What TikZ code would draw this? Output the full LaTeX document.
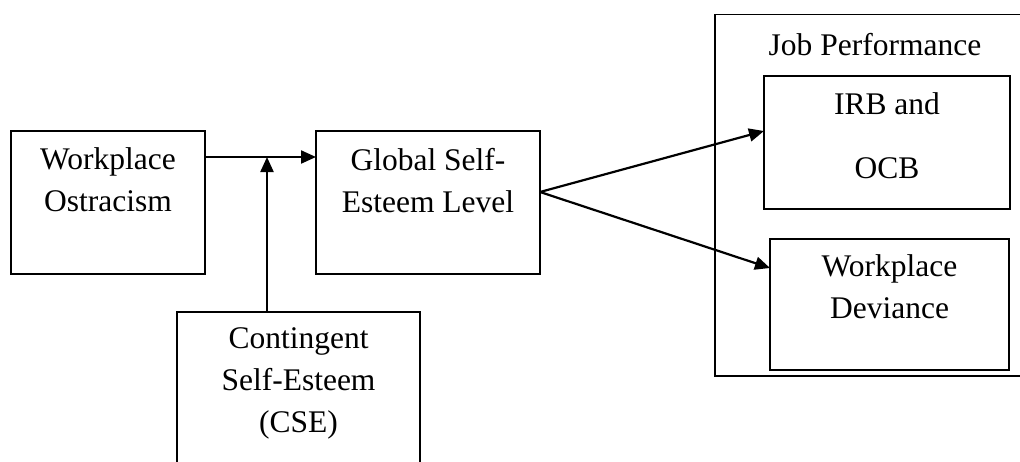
\documentclass[tikz,border=0pt]{standalone}
\usepackage{fontspec}
\setmainfont{Liberation Serif}
\usetikzlibrary{arrows.meta}
\begin{document}
\begin{tikzpicture}[x=1pt,y=-1pt,
  box/.style={draw=black,line width=1.5pt,inner sep=0pt,outer sep=0pt,rectangle},
  lbl/.style={anchor=base,align=center,inner sep=0pt,font=\fontsize{31.5}{42}\selectfont},
  lblwide/.style={anchor=base,align=center,inner sep=0pt,font=\fontsize{31.5}{64}\selectfont},
  arr/.style={line width=2.2pt,-{Triangle[length=15pt,width=13pt]}}]
\useasboundingbox (0,0) rectangle (1020,461);
\clip (0,0) rectangle (1020,461);
% boxes
\node[box,minimum width=194pt,minimum height=143pt] (ostr) at (108,202.5) {};
\node[box,minimum width=224pt,minimum height=143pt] (glob) at (428,202.5) {};
\node[box,minimum width=243pt,minimum height=188pt] (cse) at (298.5,406) {};
\node[box,minimum width=320pt,minimum height=361.5pt] (jp) at (875,195.25) {};
\node[box,minimum width=246pt,minimum height=133pt] (irb) at (887,142.5) {};
\node[box,minimum width=239pt,minimum height=131pt] (dev) at (889.5,304.5) {};
% texts (anchor = baseline of the last line)
\node[lbl] (tostr) at (108,211) {Workplace\\Ostracism};
\node[lbl] (tglob) at (428,212) {Global Self-\\Esteem Level};
\node[lbl] (tcse) at (298.5,432) {Contingent\\Self-Esteem\\(CSE)};
\node[lbl] (tjp) at (875,55) {Job Performance};
\node[lblwide] (tirb) at (887,178) {IRB and\\OCB};
\node[lbl] (tdev) at (889.5,318) {Workplace\\Deviance};
% connectors
\coordinate (j) at ([yshift=45.5pt]ostr.east);
\coordinate (m) at (267,157);
\draw[arr] (j) -- (j -| glob.west);
\draw[arr] (cse.north -| m) -- (m);
\coordinate (g) at ([yshift=10.5pt]glob.east);
\draw[arr] (g) -- ([yshift=11.5pt]irb.west);
\draw[arr] (g) -- ([yshift=36.5pt]dev.west);
\end{tikzpicture}
\end{document}
